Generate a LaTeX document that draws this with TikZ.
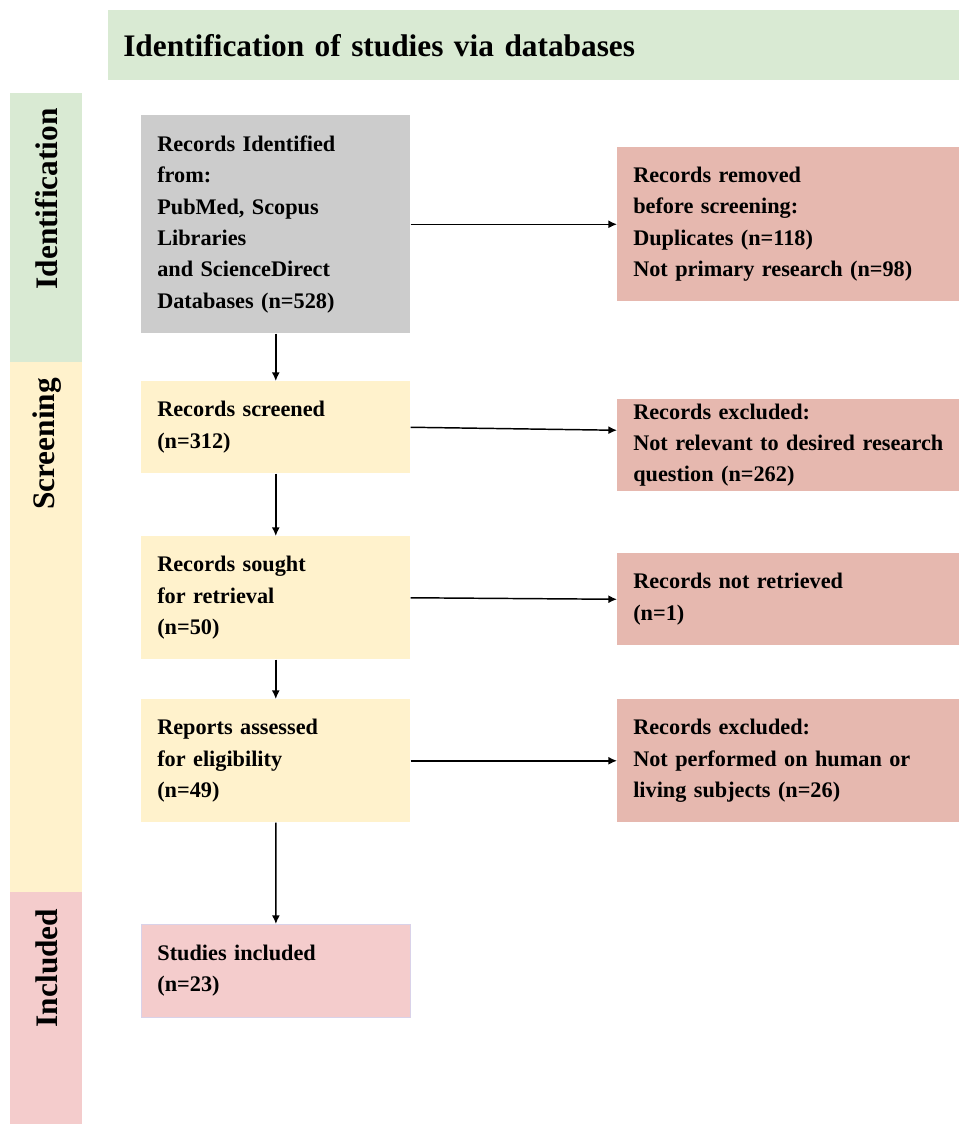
\documentclass[tikz,border=0pt]{standalone}
\usepackage{fontspec}
\setmainfont{Liberation Serif}
\usepackage{tikz}
\usetikzlibrary{arrows.meta}

\definecolor{hdrgreen}{HTML}{D9EAD3}
\definecolor{boxgray}{HTML}{CCCCCC}
\definecolor{boxyellow}{HTML}{FFF2CC}
\definecolor{boxred}{HTML}{E6B8AF}
\definecolor{boxpink}{HTML}{F4CCCC}
\definecolor{pinkline}{HTML}{D9D2E9}

\tikzset{
  bodytext/.style={font=\fontsize{16.7}{23.5}\selectfont\bfseries},
  leftbox/.style={bodytext, anchor=north west, inner xsep=12pt, inner ysep=0pt,
    minimum width=201.75pt, text width=177.75pt, align=left},
  rightbox/.style={bodytext, anchor=north west, fill=boxred, inner xsep=12pt, inner ysep=0pt,
    minimum width=256.5pt, text width=232.5pt, align=left},
  sidebar/.style={anchor=north west, inner sep=0pt, minimum width=54pt},
  stagelabel/.style={font=\fontsize{23.5}{28}\selectfont\bfseries, rotate=90, inner sep=0pt},
  flowarrow/.style={-{Latex[length=6.5pt,width=6pt]}, line width=1.1pt},
}

\begin{document}
\begin{tikzpicture}[x=0.75pt,y=0.75pt,yscale=-1,xscale=1]
\useasboundingbox (0,0) rectangle (959,1124);

% Header
\node [anchor=north west, fill=hdrgreen, inner xsep=11.25pt, inner ysep=0pt,
  minimum width=638.25pt, minimum height=52.5pt, text width=615.75pt, align=left,
  font=\fontsize{23.5}{28}\selectfont\bfseries] (header) at (108,10) {Identification of studies via databases};

% Side bar
\node [sidebar, fill=hdrgreen, minimum height=201.75pt] (sideid) at (10,93) {};
\node [sidebar, fill=boxyellow, minimum height=397.5pt] (sidescr) at (10,362) {};
\node [sidebar, fill=boxpink, minimum height=174pt] (sideinc) at (10,892) {};
\node [stagelabel] (lblid) at (47,199) {Identification};
\node [stagelabel] (lblscr) at (47,444) {Screening};
\node [stagelabel] (lblinc) at (47,968) {Included};

% Left column
\node [leftbox, fill=boxgray, minimum height=163.5pt] (ident) at (141,115) {Records Identified\\from:\\PubMed, Scopus\\Libraries\\and ScienceDirect\\Databases (n=528)};
\node [leftbox, fill=boxyellow, minimum height=69pt] (screened) at (141,381) {Records screened\\(n=312)};
\node [leftbox, fill=boxyellow, minimum height=92.25pt] (sought) at (141,536) {Records sought\\for retrieval\\(n=50)};
\node [leftbox, fill=boxyellow, minimum height=92.25pt] (assessed) at (141,699) {Reports assessed\\for eligibility\\(n=49)};
\node [leftbox, fill=boxpink, draw=pinkline, line width=0.6pt, minimum height=69.75pt] (included) at (141,924) {Studies included\\(n=23)};

% Right column
\node [rightbox, minimum height=115.5pt] (removed) at (617,147) {Records removed\\before screening:\\Duplicates (n=118)\\Not primary research (n=98)};
\node [rightbox, minimum height=69pt] (excl1) at (617,399) {Records excluded:\\\mbox{Not relevant to desired research}\\question (n=262)};
\node [rightbox, minimum height=69pt] (notret) at (617,553) {Records not retrieved\\(n=1)};
\node [rightbox, minimum height=92.25pt] (excl2) at (617,699) {Records excluded:\\Not performed on human or\\living subjects (n=26)};

% Arrows
\draw [flowarrow] (ident.south) -- (screened.north);
\draw [flowarrow] (screened.south) -- (sought.north);
\draw [flowarrow] (sought.south) -- (assessed.north);
\draw [flowarrow] (assessed.south) -- (included.north);
\draw [flowarrow] (ident.east) -- (removed.west);
\draw [flowarrow] (screened.east) -- ([yshift=-11.25pt]excl1.west);
\draw [flowarrow] (sought.east) -- (notret.west);
\draw [flowarrow] (assessed.east) -- (excl2.west);

\end{tikzpicture}
\end{document}
